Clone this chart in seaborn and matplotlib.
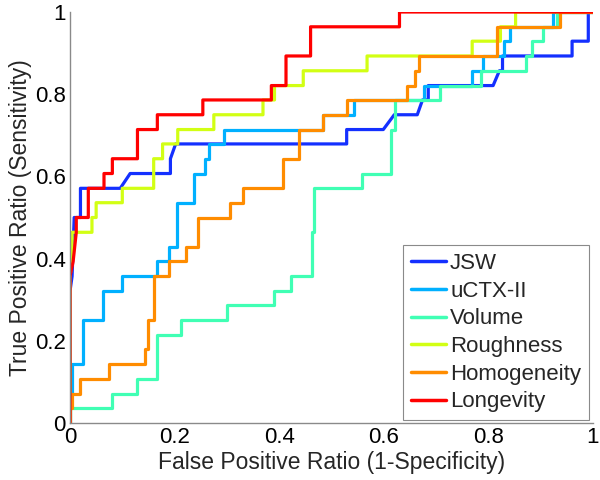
import numpy as np
import pandas as pd
import seaborn as sns
import matplotlib
matplotlib.use("Agg")
import matplotlib.pyplot as plt

# ROC curve vertices (false positive ratio, true positive ratio)
jsw_fpr = [0, 0, 0.004, 0.008, 0.02, 0.02, 0.096, 0.115, 0.192, 0.192, 0.202, 0.529, 0.529,
           0.599, 0.620, 0.664, 0.674, 0.685, 0.685, 0.809, 0.821, 0.827, 0.827, 0.960, 0.960,
           0.991, 0.991, 1.0]
jsw_tpr = [0, 0.321, 0.357, 0.5, 0.5, 0.571, 0.571, 0.607, 0.607, 0.643, 0.679, 0.679, 0.714,
           0.714, 0.75, 0.75, 0.786, 0.786, 0.821, 0.821, 0.857, 0.857, 0.893, 0.893, 0.929,
           0.929, 1.0, 1.0]

uctx_fpr = [0, 0, 0.004, 0.004, 0.025, 0.025, 0.063, 0.063, 0.1, 0.1, 0.167, 0.167, 0.19, 0.19,
            0.205, 0.205, 0.237, 0.237, 0.258, 0.258, 0.265, 0.265, 0.294, 0.294, 0.483, 0.483,
            0.543, 0.543, 0.676, 0.676, 0.769, 0.769, 0.790, 0.790, 0.829, 0.829, 0.842, 0.842,
            0.924, 0.924, 1.0]
uctx_tpr = [0, 0.071, 0.071, 0.143, 0.143, 0.25, 0.25, 0.321, 0.321, 0.357, 0.357, 0.393, 0.393,
            0.429, 0.429, 0.536, 0.536, 0.607, 0.607, 0.643, 0.643, 0.679, 0.679, 0.714, 0.714,
            0.75, 0.75, 0.786, 0.786, 0.821, 0.821, 0.857, 0.857, 0.893, 0.893, 0.929, 0.929,
            0.964, 0.964, 1.0, 1.0]

vol_fpr = [0, 0, 0.081, 0.081, 0.129, 0.129, 0.167, 0.167, 0.212, 0.212, 0.3, 0.3, 0.39, 0.39,
           0.423, 0.423, 0.462, 0.462, 0.467, 0.467, 0.559, 0.559, 0.614, 0.614, 0.622, 0.622,
           0.708, 0.708, 0.786, 0.786, 0.871, 0.871, 0.884, 0.884, 0.905, 0.905, 0.931, 0.931, 1.0]
vol_tpr = [0, 0.036, 0.036, 0.071, 0.071, 0.107, 0.107, 0.214, 0.214, 0.25, 0.25, 0.286, 0.286,
           0.321, 0.321, 0.357, 0.357, 0.464, 0.464, 0.571, 0.571, 0.607, 0.607, 0.714, 0.714,
           0.786, 0.786, 0.821, 0.821, 0.857, 0.857, 0.893, 0.893, 0.929, 0.929, 0.964, 0.964,
           1.0, 1.0]

rough_fpr = [0, 0, 0.004, 0.004, 0.042, 0.042, 0.05, 0.05, 0.1, 0.1, 0.160, 0.160, 0.177, 0.177,
             0.206, 0.206, 0.275, 0.275, 0.369, 0.369, 0.391, 0.391, 0.446, 0.446, 0.568, 0.568,
             0.769, 0.769, 0.823, 0.823, 0.852, 0.852, 1.0]
rough_tpr = [0, 0.357, 0.393, 0.464, 0.464, 0.5, 0.5, 0.536, 0.536, 0.571, 0.571, 0.643, 0.643,
             0.679, 0.679, 0.714, 0.714, 0.75, 0.75, 0.786, 0.786, 0.821, 0.821, 0.857, 0.857,
             0.893, 0.893, 0.929, 0.929, 0.964, 0.964, 1.0, 1.0]

homo_fpr = [0, 0, 0.004, 0.004, 0.019, 0.019, 0.075, 0.075, 0.144, 0.144, 0.15, 0.15, 0.16, 0.16,
            0.19, 0.19, 0.221, 0.221, 0.244, 0.244, 0.306, 0.306, 0.331, 0.331, 0.408, 0.408,
            0.438, 0.438, 0.484, 0.484, 0.529, 0.529, 0.645, 0.645, 0.659, 0.659, 0.667, 0.667,
            0.817, 0.817, 0.937, 0.937, 1.0]
homo_tpr = [0, 0.036, 0.036, 0.071, 0.071, 0.107, 0.107, 0.143, 0.143, 0.179, 0.179, 0.25, 0.25,
            0.357, 0.357, 0.393, 0.393, 0.429, 0.429, 0.5, 0.5, 0.536, 0.536, 0.571, 0.571, 0.643,
            0.643, 0.714, 0.714, 0.75, 0.75, 0.786, 0.786, 0.821, 0.821, 0.857, 0.857, 0.893,
            0.893, 0.964, 0.964, 1.0, 1.0]

long_fpr = [0, 0, 0.006, 0.012, 0.012, 0.035, 0.035, 0.065, 0.065, 0.081, 0.081, 0.129, 0.129,
            0.167, 0.167, 0.254, 0.254, 0.385, 0.385, 0.413, 0.413, 0.46, 0.46, 0.630, 0.630, 1.0]
long_tpr = [0, 0.357, 0.393, 0.464, 0.5, 0.5, 0.571, 0.571, 0.607, 0.607, 0.643, 0.643, 0.714,
            0.714, 0.75, 0.75, 0.786, 0.786, 0.821, 0.821, 0.893, 0.893, 0.964, 0.964, 1.0, 1.0]

markers = ["JSW", "uCTX-II", "Volume", "Roughness", "Homogeneity", "Longevity"]
colors = ["#1430FF", "#00B0FF", "#40FFB4", "#D2FF14", "#FF8C00", "#FF0000"]
x_ticks = [0, 0.2, 0.4, 0.6, 0.8, 1]
tick_labels = ["0", "0.2", "0.4", "0.6", "0.8", "1"]

series = [(jsw_fpr, jsw_tpr), (uctx_fpr, uctx_tpr), (vol_fpr, vol_tpr),
          (rough_fpr, rough_tpr), (homo_fpr, homo_tpr), (long_fpr, long_tpr)]
frames = []
for name, (fx, fy) in zip(markers, series):
    frames.append(pd.DataFrame({"fpr": fx, "tpr": fy, "marker": name,
                                "order": np.arange(len(fx))}))
df = pd.concat(frames, ignore_index=True)

sns.set_style("white")
plt.rcParams["font.family"] = ["Liberation Sans", "DejaVu Sans"]

fig = plt.figure(figsize=(6, 4.8), dpi=100)
ax = fig.add_axes([70 / 600, 57 / 480, 523 / 600, 411 / 480])

sns.lineplot(data=df, x="fpr", y="tpr", hue="marker", hue_order=markers,
             palette=colors, sort=False, estimator=None, units="marker",
             linewidth=2.3, ax=ax, legend=True)

ax.set_xlim(0, 1)
ax.set_ylim(0, 1)
ax.set_xticks(x_ticks)
ax.set_xticklabels(tick_labels)
ax.set_yticks(x_ticks)
ax.set_yticklabels(tick_labels)
for s in ["top", "right"]:
    ax.spines[s].set_visible(False)
for s in ["left", "bottom"]:
    ax.spines[s].set_color("#8a8a8a")
    ax.spines[s].set_linewidth(1.0)
ax.tick_params(direction="in", length=4, width=0.8, color="#8a8a8a",
               labelsize=16, labelcolor="black", pad=3)
ax.set_xlabel("False Positive Ratio (1-Specificity)", fontsize=16.5, labelpad=2)
ax.set_ylabel("True Positive Ratio (Sensitivity)", fontsize=16.5, labelpad=2)

handles, labels = ax.get_legend_handles_labels()
leg = ax.legend(handles, labels, loc="lower right", bbox_to_anchor=(0.992, 0.007),
                borderaxespad=0, fontsize=16, handlelength=1.55, handletextpad=0.2,
                borderpad=0.35, labelspacing=0.3, fancybox=False, framealpha=1)
leg.get_frame().set_edgecolor("#8a8a8a")
leg.get_frame().set_linewidth(0.8)
for line in leg.get_lines():
    line.set_linewidth(2.5)

fig.savefig("out.png", dpi=100)
